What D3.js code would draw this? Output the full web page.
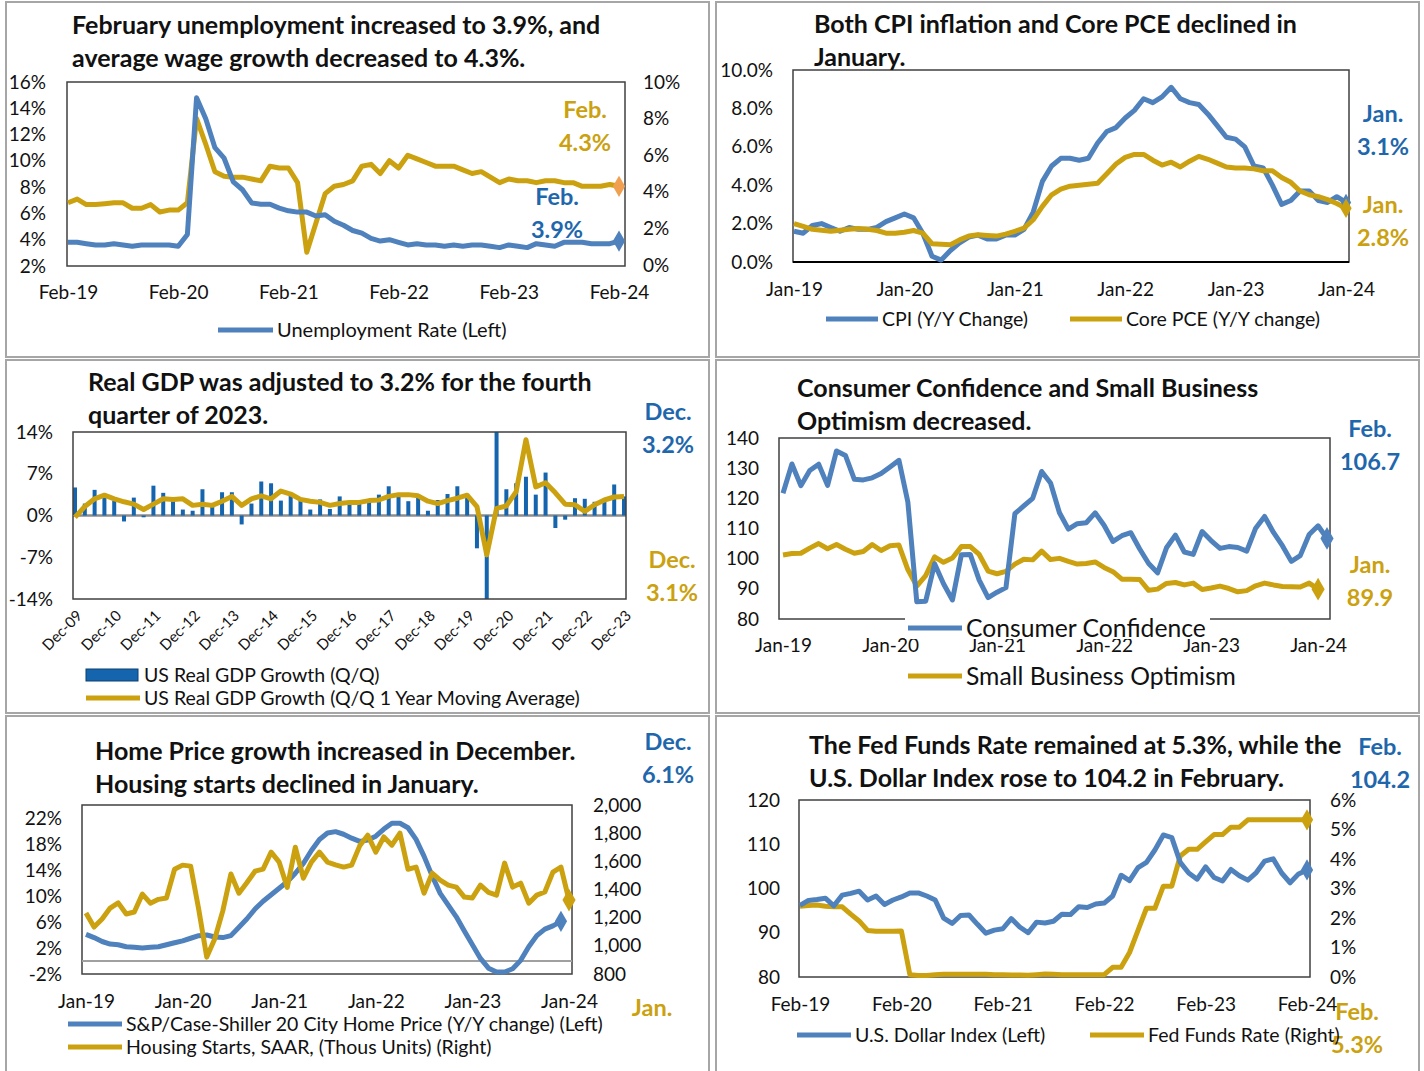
<!DOCTYPE html>
<html>
<head>
<meta charset="utf-8">
<script src="https://cdn.jsdelivr.net/npm/d3@7"></script>
<style>
  body { margin: 0; background: #fff; }
  svg text { font-family: Lato, "Liberation Sans", sans-serif; }
</style>
</head>
<body>
<svg id="chart" width="1424" height="1071"></svg>
<script>
// ---- data ----

// panel 1: monthly, Feb-19 .. Feb-24
const unempTickLabels = ["Feb-19", "Feb-20", "Feb-21", "Feb-22", "Feb-23", "Feb-24"];
const unemploymentRate = [3.8,3.8,3.7,3.6,3.6,3.7,3.6,3.5,3.6,3.6,3.6,
  3.6,3.5,4.4,14.8,13.2,11.0,10.2,8.4,7.8,6.8,6.7,6.7,
  6.4,6.2,6.1,6.1,5.8,5.9,5.4,5.1,4.7,4.5,4.1,3.9,
  4.0,3.8,3.6,3.7,3.6,3.6,3.5,3.6,3.5,3.6,3.6,3.5,
  3.4,3.6,3.5,3.4,3.7,3.6,3.5,3.8,3.8,3.8,3.7,3.7,
  3.7,3.9];
const wageGrowth = [3.4,3.6,3.3,3.3,3.35,3.4,3.4,3.1,3.1,3.3,2.9,3.0,
  3.0,3.4,8.0,6.6,5.1,4.85,4.8,4.8,4.7,4.6,5.4,5.3,
  5.3,4.5,0.7,2.3,3.9,4.3,4.4,4.6,5.4,5.5,5.0,5.7,
  5.3,6.0,5.8,5.6,5.4,5.4,5.4,5.2,5.0,5.1,4.8,4.5,
  4.7,4.6,4.6,4.5,4.6,4.6,4.5,4.5,4.3,4.3,4.3,4.4,
  4.3];

// panel 2: monthly, Jan-19 .. Jan-24
const inflTickLabels = ["Jan-19", "Jan-20", "Jan-21", "Jan-22", "Jan-23", "Jan-24"];
const cpiYoY = [1.6,1.5,1.9,2.0,1.8,1.6,1.8,1.7,1.7,1.8,2.1,2.3,
  2.5,2.3,1.5,0.3,0.1,0.6,1.0,1.3,1.4,1.2,1.2,1.4,
  1.4,1.7,2.6,4.2,5.0,5.4,5.4,5.3,5.4,6.2,6.8,7.0,
  7.5,7.9,8.5,8.3,8.6,9.1,8.5,8.3,8.2,7.7,7.1,6.5,
  6.4,6.0,5.0,4.9,4.0,3.0,3.2,3.7,3.7,3.2,3.1,3.4,
  3.1];
const corePceYoY = [2.0,1.85,1.7,1.65,1.6,1.65,1.7,1.75,1.7,1.64,1.5,1.5,
  1.55,1.64,1.5,0.95,0.92,0.9,1.15,1.35,1.42,1.38,1.35,1.45,
  1.6,1.76,2.2,2.9,3.5,3.8,3.95,4.0,4.05,4.1,4.6,5.1,
  5.45,5.6,5.6,5.3,5.05,5.2,4.95,5.25,5.5,5.35,5.15,4.95,
  4.9,4.9,4.85,4.75,4.75,4.4,4.15,3.7,3.5,3.4,3.25,3.05,
  2.8];

// panel 3: quarterly, Dec-09 .. Dec-23
const gdpTickLabels = ["Dec-09","Dec-10","Dec-11","Dec-12","Dec-13","Dec-14","Dec-15","Dec-16",
  "Dec-17","Dec-18","Dec-19","Dec-20","Dec-21","Dec-22","Dec-23"];
const gdpQoQ = [4.7,2.0,4.3,3.0,2.5,-1.0,3.0,-0.3,5.0,3.8,2.4,1.0,0.8,4.4,1.5,3.9,3.9,-1.5,2.0,5.7,
  5.4,2.5,3.4,2.8,1.0,2.7,1.1,3.2,2.3,2.3,2.6,3.5,4.9,3.5,2.4,3.5,0.8,2.6,3.6,4.9,
  3.2,-5.5,-28.0,34.8,4.4,5.4,6.5,3.5,7.2,-2.1,-0.7,2.9,2.8,2.3,2.6,5.2,3.2];
const gdpMovingAvg = [-0.3,1.5,2.8,3.4,2.8,2.3,1.9,1.0,1.9,2.8,2.7,2.8,1.7,1.9,1.7,2.4,3.2,1.7,2.8,3.3,
  2.8,4.1,3.6,2.7,2.4,2.2,1.7,2.0,2.2,2.2,2.5,2.6,3.2,3.5,3.5,3.3,2.4,2.0,2.5,2.9,
  3.4,1.5,-6.6,1.2,1.6,4.0,12.7,4.8,5.5,3.8,1.9,1.8,0.7,1.8,2.6,3.1,3.2];

// panel 4: monthly, Jan-19 .. Feb-24 (optimism to Jan-24)
const sentimentTickLabels = ["Jan-19", "Jan-20", "Jan-21", "Jan-22", "Jan-23", "Jan-24"];
const consumerConfidence = [121.7,131.4,124.2,129.2,131.3,124.3,135.7,134.2,126.3,126.1,126.8,128.2,
  130.4,132.6,118.8,85.7,85.9,98.3,91.7,86.3,101.3,101.4,92.9,87.1,
  88.9,90.4,114.9,117.5,120.0,128.9,125.1,115.2,109.8,111.6,111.9,115.2,
  111.1,105.7,107.6,108.6,103.2,98.4,95.3,103.6,107.8,102.2,101.4,109.0,
  106.0,103.4,104.0,103.7,102.5,110.1,114.0,108.7,104.3,99.1,101.0,108.0,
  110.9,106.7];
const smallBizOptimism = [101.2,101.7,101.8,103.5,105.0,103.3,104.7,103.1,101.8,102.4,104.7,102.7,
  104.3,104.5,96.4,90.9,94.4,100.6,98.8,100.2,104.0,104.0,101.4,95.9,
  95.0,95.8,98.2,99.8,99.6,102.5,99.7,100.1,99.1,98.2,98.4,98.9,
  97.1,95.7,93.2,93.2,93.1,89.5,89.9,91.8,92.1,91.3,91.9,89.8,
  90.3,90.9,90.1,89.0,89.4,91.0,91.9,91.3,90.8,90.7,90.6,91.9,
  89.9];

// panel 5: monthly, Jan-19 .. Jan-24 (home prices to Dec-23)
const housingTickLabels = ["Jan-19", "Jan-20", "Jan-21", "Jan-22", "Jan-23", "Jan-24"];
const homePriceYoY = [4.1,3.6,3.0,2.6,2.5,2.2,2.1,2.0,2.1,2.2,2.5,2.8,
  3.1,3.5,3.9,4.0,3.7,3.6,3.9,5.2,6.5,8.0,9.2,10.2,
  11.2,12.2,13.5,15.0,17.0,18.7,19.7,19.9,19.5,18.9,18.4,18.6,
  19.2,20.3,21.2,21.2,20.5,18.7,16.1,13.1,10.4,8.6,6.8,4.6,
  2.5,0.4,-1.1,-1.7,-1.7,-1.2,0.1,2.2,3.9,4.9,5.4,6.1];
const housingStarts = [1233,1133,1190,1268,1305,1226,1240,1367,1303,1330,1340,1544,
  1573,1566,1260,920,1050,1250,1510,1374,1450,1530,1545,1665,
  1594,1415,1700,1480,1594,1665,1594,1575,1559,1573,1710,1786,
  1665,1773,1715,1800,1544,1559,1374,1516,1467,1431,1417,1346,
  1340,1431,1380,1360,1587,1417,1445,1303,1360,1382,1523,1559,
  1325];

// panel 6: monthly, Feb-19 .. Feb-24
const fedTickLabels = ["Feb-19", "Feb-20", "Feb-21", "Feb-22", "Feb-23", "Feb-24"];
const dollarIndex = [96.2,97.3,97.5,97.8,96.1,98.5,98.9,99.4,97.4,98.3,96.4,
  97.4,98.1,99.0,99.0,98.3,97.4,93.3,92.1,93.9,94.0,91.9,89.9,
  90.6,90.9,93.2,91.3,90.0,92.4,92.2,92.6,94.2,94.1,95.9,95.7,
  96.5,96.7,98.3,103.0,101.8,104.7,105.9,108.7,112.1,111.5,105.9,103.5,
  102.1,104.9,102.5,101.7,104.3,102.9,101.9,103.6,106.2,106.7,103.5,101.3,
  103.3,104.2];
const fedFundsRate = [2.40,2.42,2.44,2.40,2.38,2.38,2.13,1.90,1.58,1.55,1.55,
  1.55,1.56,0.08,0.05,0.05,0.08,0.09,0.09,0.09,0.09,0.09,0.09,
  0.08,0.08,0.07,0.07,0.06,0.08,0.10,0.09,0.08,0.08,0.08,0.08,
  0.08,0.08,0.33,0.33,0.83,1.58,2.33,2.33,3.08,3.08,4.1,4.33,
  4.33,4.58,4.83,4.83,5.08,5.08,5.33,5.33,5.33,5.33,5.33,5.33,
  5.33,5.33];

// ---- drawing ----
const svg = d3.select("#chart");
const BLUE = "#4F81BD", GOLD = "#CBA10F", BLUE_TXT = "#1F67AC", GOLD_TXT = "#CBA10F", BAR = "#1565AE";
const TICK = 19, LEG = 19.5;

// panel frames
[[6, 2, 703, 355], [716, 2, 703, 355], [6, 360, 703, 353], [716, 360, 703, 353], [6, 716, 703, 360], [716, 716, 703, 360]]
  .forEach(f => svg.append("rect").attr("x", f[0]).attr("y", f[1]).attr("width", f[2]).attr("height", f[3])
    .attr("fill", "none").attr("stroke", "#a6a6a6").attr("stroke-width", 2));

function addTitle(lines, x, y) {
  svg.append("text").attr("font-size", 25).attr("font-weight", "bold").attr("fill", "#111")
    .selectAll("tspan").data(lines).join("tspan")
    .attr("x", x).attr("y", (d, i) => y + i * 33).text(d => d);
}

function addNote(lines, x, y, color) {
  svg.append("text").attr("font-size", 23.5).attr("font-weight", "bold").attr("fill", color)
    .attr("text-anchor", "middle")
    .selectAll("tspan").data(lines).join("tspan")
    .attr("x", x).attr("y", (d, i) => y + i * 33).text(d => d);
}

function addBox(x0, y0, x1, y1) {
  svg.append("rect").attr("x", x0).attr("y", y0).attr("width", x1 - x0).attr("height", y1 - y0)
    .attr("fill", "none").attr("stroke", "#404040").attr("stroke-width", 1.5);
}

function addAxis(gen, tx, ty, size) {
  const g = svg.append("g").attr("transform", `translate(${tx},${ty})`).call(gen);
  g.select(".domain").remove();
  g.selectAll("text").attr("font-size", size || TICK).attr("fill", "#111");
  return g;
}

function addLine(data, x, y, color) {
  svg.append("path").datum(data)
    .attr("d", d3.line().x((d, i) => x(i)).y(d => y(d)))
    .attr("fill", "none").attr("stroke", color).attr("stroke-width", 5).attr("stroke-linejoin", "round");
}

function addDiamond(cx, cy, color, size) {
  svg.append("path").attr("d", d3.symbol(d3.symbolDiamond, size || 110)())
    .attr("transform", `translate(${cx},${cy})`).attr("fill", color);
}

function addLegendLine(x1, x2, y, color, label, size) {
  svg.append("line").attr("x1", x1).attr("x2", x2).attr("y1", y).attr("y2", y)
    .attr("stroke", color).attr("stroke-width", 5);
  svg.append("text").attr("x", x2 + 4).attr("y", y).attr("dy", "0.35em")
    .attr("font-size", size || LEG).attr("fill", "#111").text(label);
}

const yearTicks = [0, 12, 24, 36, 48, 60];

// ---------- Panel 1: unemployment and wages ----------
{
  const x = d3.scaleLinear().domain([0, 60]).range([68, 619]);
  const yL = d3.scaleLinear().domain([2, 16]).range([266, 82]);
  const yR = d3.scaleLinear().domain([0, 10]).range([265, 82]);
  addBox(67, 82, 625, 266);
  addAxis(d3.axisLeft(yL).tickValues(d3.range(2, 17, 2)).tickFormat(d => d + "%").tickSize(0).tickPadding(21), 67, 0);
  addAxis(d3.axisRight(yR).tickValues(d3.range(0, 11, 2)).tickFormat(d => d + "%").tickSize(0).tickPadding(18), 625, 0);
  addAxis(d3.axisBottom(x).tickValues(yearTicks).tickFormat((d, i) => unempTickLabels[i]).tickSize(0).tickPadding(20), 0, 266);
  addLine(wageGrowth, x, yR, GOLD);
  addLine(unemploymentRate, x, yL, BLUE);
  addDiamond(x(60), yR(wageGrowth[60]), "#F0A050", 130);
  addDiamond(x(60), yL(unemploymentRate[60]), BLUE, 130);
  addTitle(["February unemployment increased to 3.9%, and", "average wage growth decreased to 4.3%."], 72, 34);
  addNote(["Feb.", "4.3%"], 585, 118, GOLD_TXT);
  addNote(["Feb.", "3.9%"], 557, 205, BLUE_TXT);
  addLegendLine(218, 273, 330, BLUE, "Unemployment Rate (Left)", 20);
}

// ---------- Panel 2: CPI and core PCE ----------
{
  const x = d3.scaleLinear().domain([0, 60]).range([794, 1346]);
  const y = d3.scaleLinear().domain([0, 10]).range([262, 70]);
  addBox(793, 70, 1349, 262);
  svg.append("line").attr("x1", 793).attr("x2", 1349).attr("y1", 262).attr("y2", 262).attr("stroke", "#000").attr("stroke-width", 2);
  addAxis(d3.axisLeft(y).tickValues(d3.range(0, 11, 2)).tickFormat(d => d.toFixed(1) + "%").tickSize(0).tickPadding(20), 793, 0);
  addAxis(d3.axisBottom(x).tickValues(yearTicks).tickFormat((d, i) => inflTickLabels[i]).tickSize(0).tickPadding(21), 0, 262);
  addLine(cpiYoY, x, y, BLUE);
  addLine(corePceYoY, x, y, GOLD);
  addDiamond(x(60), y(cpiYoY[60]), BLUE, 90);
  addDiamond(x(60), y(corePceYoY[60]), GOLD, 110);
  addTitle(["Both CPI inflation and Core PCE declined in", "January."], 814, 33);
  addNote(["Jan.", "3.1%"], 1383, 122, BLUE_TXT);
  addNote(["Jan.", "2.8%"], 1383, 213, GOLD_TXT);
  addLegendLine(826, 878, 319, BLUE, "CPI (Y/Y Change)");
  addLegendLine(1070, 1122, 319, GOLD, "Core PCE (Y/Y change)");
}

// ---------- Panel 3: real GDP ----------
{
  const x = d3.scaleLinear().domain([0, 56]).range([75, 624]);
  const y = d3.scaleLinear().domain([-14, 14]).range([599, 432]);
  svg.append("clipPath").attr("id", "gdpClip").append("rect")
    .attr("x", 73).attr("y", 432).attr("width", 553).attr("height", 167);
  addAxis(d3.axisLeft(y).tickValues([-14, -7, 0, 7, 14]).tickFormat(d => d + "%").tickSize(0).tickPadding(20), 73, 0);
  svg.append("line").attr("x1", 73).attr("x2", 626).attr("y1", y(0)).attr("y2", y(0)).attr("stroke", "#8c8c8c").attr("stroke-width", 2.5);
  svg.append("g").attr("clip-path", "url(#gdpClip)")
    .selectAll("rect").data(gdpQoQ).join("rect")
    .attr("x", (d, i) => x(i) - 2).attr("width", 4)
    .attr("y", d => y(Math.max(0, d))).attr("height", d => Math.abs(y(d) - y(0)))
    .attr("fill", BAR);
  addBox(73, 432, 626, 599);
  const gx = addAxis(d3.axisBottom(x).tickValues(d3.range(0, 57, 4)).tickFormat((d, i) => gdpTickLabels[i]).tickSize(0).tickPadding(0), 0, 599, 15);
  gx.selectAll("text").attr("y", 0).attr("dy", "0.35em").attr("text-anchor", "end")
    .attr("transform", "translate(4,14) rotate(-45)");
  svg.append("g").attr("clip-path", "url(#gdpClip)").append("path").datum(gdpMovingAvg)
    .attr("d", d3.line().x((d, i) => x(i)).y(d => y(d)))
    .attr("fill", "none").attr("stroke", GOLD).attr("stroke-width", 5).attr("stroke-linejoin", "round");
  addTitle(["Real GDP was adjusted to 3.2% for the fourth", "quarter of 2023."], 88, 391);
  addNote(["Dec.", "3.2%"], 668, 420, BLUE_TXT);
  addNote(["Dec.", "3.1%"], 672, 568, GOLD_TXT);
  svg.append("rect").attr("x", 86).attr("y", 669).attr("width", 52).attr("height", 12)
    .attr("fill", BAR).attr("stroke", "#0d3f70").attr("stroke-width", 1);
  svg.append("text").attr("x", 144).attr("y", 675).attr("dy", "0.35em").attr("font-size", LEG).attr("fill", "#111")
    .text("US Real GDP Growth (Q/Q)");
  addLegendLine(86, 140, 698, GOLD, "US Real GDP Growth (Q/Q 1 Year Moving Average)");
}

// ---------- Panel 4: confidence and optimism ----------
{
  const x = d3.scaleLinear().domain([0, 61]).range([783, 1327]);
  const y = d3.scaleLinear().domain([80, 140]).range([619, 438]);
  addBox(779, 438, 1330, 619);
  addAxis(d3.axisLeft(y).tickValues(d3.range(80, 141, 10)).tickSize(0).tickPadding(20), 779, 0);
  addAxis(d3.axisBottom(x).tickValues(yearTicks).tickFormat((d, i) => sentimentTickLabels[i]).tickSize(0).tickPadding(20), 0, 619);
  addLine(smallBizOptimism, x, y, GOLD);
  addLine(consumerConfidence, x, y, BLUE);
  addDiamond(x(61), y(consumerConfidence[61]), BLUE, 150);
  addDiamond(x(60), y(smallBizOptimism[60]), GOLD, 150);
  addTitle(["Consumer Confidence and Small Business", "Optimism decreased."], 797, 397);
  addNote(["Feb.", "106.7"], 1370, 437, BLUE_TXT);
  addNote(["Jan.", "89.9"], 1370, 573, GOLD_TXT);
  svg.append("rect").attr("x", 905).attr("y", 617).attr("width", 305).attr("height", 22).attr("fill", "#fff");
  addLegendLine(908, 962, 628, BLUE, "Consumer Confidence", 24.7);
  addLegendLine(908, 962, 676, GOLD, "Small Business Optimism", 24.7);
}

// ---------- Panel 5: home prices and housing starts ----------
{
  const x = d3.scaleLinear().domain([0, 60]).range([86, 569]);
  const yL = d3.scaleLinear().domain([-2, 24]).range([974, 805]);
  const yR = d3.scaleLinear().domain([800, 2000]).range([974, 805]);
  addBox(82, 805, 572, 974);
  svg.append("line").attr("x1", 82).attr("x2", 572).attr("y1", yL(0)).attr("y2", yL(0)).attr("stroke", "#a0a0a0").attr("stroke-width", 2);
  addAxis(d3.axisLeft(yL).tickValues(d3.range(-2, 23, 4)).tickFormat(d => d + "%").tickSize(0).tickPadding(20), 82, 0);
  addAxis(d3.axisRight(yR).tickValues(d3.range(800, 2001, 200)).tickFormat(d3.format(",")).tickSize(0).tickPadding(21), 572, 0);
  addAxis(d3.axisBottom(x).tickValues(yearTicks).tickFormat((d, i) => housingTickLabels[i]).tickSize(0).tickPadding(21), 0, 974);
  addLine(homePriceYoY, x, yL, BLUE);
  addLine(housingStarts, x, yR, GOLD);
  addDiamond(x(59), yL(homePriceYoY[59]), BLUE, 130);
  addDiamond(x(60), yR(housingStarts[60]), GOLD, 150);
  addTitle(["Home Price growth increased in December.", "Housing starts declined in January."], 95, 760);
  addNote(["Dec.", "6.1%"], 668, 750, BLUE_TXT);
  addNote(["Jan."], 652, 1016, GOLD_TXT);
  addLegendLine(68, 122, 1024, BLUE, "S&P/Case-Shiller 20 City Home Price (Y/Y change) (Left)");
  addLegendLine(68, 122, 1047, GOLD, "Housing Starts, SAAR, (Thous Units) (Right)");
}

// ---------- Panel 6: fed funds and dollar ----------
{
  const x = d3.scaleLinear().domain([0, 60]).range([800, 1307]);
  const yL = d3.scaleLinear().domain([80, 120]).range([977, 800]);
  const yR = d3.scaleLinear().domain([0, 6]).range([977, 800]);
  addBox(799, 800, 1310, 977);
  addAxis(d3.axisLeft(yL).tickValues(d3.range(80, 121, 10)).tickSize(0).tickPadding(19), 799, 0);
  addAxis(d3.axisRight(yR).tickValues(d3.range(0, 7, 1)).tickFormat(d => d + "%").tickSize(0).tickPadding(20), 1310, 0);
  addAxis(d3.axisBottom(x).tickValues(yearTicks).tickFormat((d, i) => fedTickLabels[i]).tickSize(0).tickPadding(21), 0, 977);
  addLine(fedFundsRate, x, yR, GOLD);
  addLine(dollarIndex, x, yL, BLUE);
  addDiamond(x(60), yL(dollarIndex[60]), BLUE, 130);
  addDiamond(x(60), yR(fedFundsRate[60]), GOLD, 130);
  addTitle(["The Fed Funds Rate remained at 5.3%, while the", "U.S. Dollar Index rose to 104.2 in February."], 809, 754);
  addNote(["Feb.", "104.2"], 1380, 755, BLUE_TXT);
  addNote(["Feb.", "5.3%"], 1357, 1020, GOLD_TXT);
  addLegendLine(797, 851, 1035, BLUE, "U.S. Dollar Index (Left)");
  addLegendLine(1090, 1144, 1035, GOLD, "Fed Funds Rate (Right)");
}
</script>
</body>
</html>
